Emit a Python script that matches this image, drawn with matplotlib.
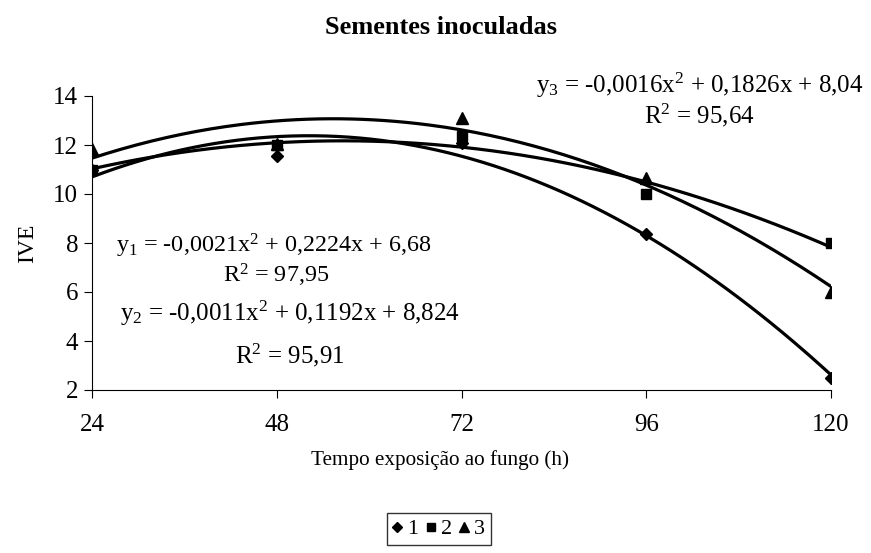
import numpy as np
import matplotlib
matplotlib.use("Agg")
import matplotlib.pyplot as plt

plt.rcParams['font.family'] = ['Liberation Serif', 'DejaVu Serif']
plt.rcParams['mathtext.fontset'] = 'custom'
plt.rcParams['mathtext.rm'] = 'Liberation Serif'
plt.rcParams['mathtext.it'] = 'Liberation Serif:italic'

x = [24, 48, 72, 96, 120]
s1 = [11.0, 11.55, 12.1, 8.35, 2.5]
s2 = [11.0, 12.0, 12.35, 10.0, 8.0]
s3 = [11.85, 12.05, 13.1, 10.65, 6.0]
labels = ['1', '2', '3']
markers = ['D', 's', '^']
xticks = [24, 48, 72, 96, 120]
yticks = [2, 4, 6, 8, 10, 12, 14]

fig = plt.figure(figsize=(8.71, 5.53), dpi=100)
ax = fig.add_axes([92/871, (553-390)/553, (831-92)/871, (390-96)/553])

xx = np.linspace(24, 120, 200)
handles = []
for ys, m, lab, ms in zip([s1, s2, s3], markers, labels, [6, 7.5, 8]):
    c = np.polyfit(x, ys, 2)
    ax.plot(xx, np.polyval(c, xx), color='black', lw=2.3, zorder=2)
    h, = ax.plot(x, ys, linestyle='none', marker=m, color='black', ms=ms, zorder=3, label=lab)
    handles.append(h)

ax.set_xlim(24, 120)
ax.set_ylim(2, 14)
ax.set_xticks(xticks)
ax.set_yticks(yticks)
ax.tick_params(axis='both', direction='out', length=6, width=0.8, labelsize=18, colors='black')
ax.tick_params(axis='x', pad=11)
ax.tick_params(axis='y', pad=4)
ax.spines['top'].set_visible(False)
ax.spines['right'].set_visible(False)
for s in ['left', 'bottom']:
    ax.spines[s].set_linewidth(0.8)

fig.text(441/871, 1 - 27/553, 'Sementes inoculadas', ha='center', va='center',
         fontsize=19, fontweight='bold')
fig.text(440/871, 1 - 460/553, 'Tempo exposição ao fungo (h)', ha='center', va='center', fontsize=15.2)
fig.text(28/871, 1 - 243/553, 'IVE', ha='center', va='center', rotation=90, fontsize=17)

fig.text(274/871, 1 - 246/553, r'y$_1$ = -0,0021x$^2$ + 0,2224x + 6,68', ha='center', va='center', fontsize=17.4)
fig.text(276/871, 1 - 275/553, r'R$^2$ = 97,95', ha='center', va='center', fontsize=17.4)
fig.text(290/871, 1 - 313/553, r'y$_2$ = -0,0011x$^2$ + 0,1192x + 8,824', ha='center', va='center', fontsize=18)
fig.text(290/871, 1 - 355/553, r'R$^2$ = 95,91', ha='center', va='center', fontsize=18)
fig.text(700/871, 1 - 85/553, r'y$_3$ = -0,0016x$^2$ + 0,1826x + 8,04', ha='center', va='center', fontsize=18)
fig.text(699/871, 1 - 115/553, r'R$^2$ = 95,64', ha='center', va='center', fontsize=18)

leg = fig.legend(handles=handles, loc='center', bbox_to_anchor=(439/871, 1 - 529/553), ncol=3,
                 frameon=True, fancybox=False, edgecolor='black', fontsize=16,
                 handlelength=0.4, handletextpad=0.25, columnspacing=0.35, borderpad=0.25,
                 borderaxespad=0, markerscale=0.85)
leg.get_frame().set_linewidth(1.0)

fig.savefig('out.png', dpi=100)
